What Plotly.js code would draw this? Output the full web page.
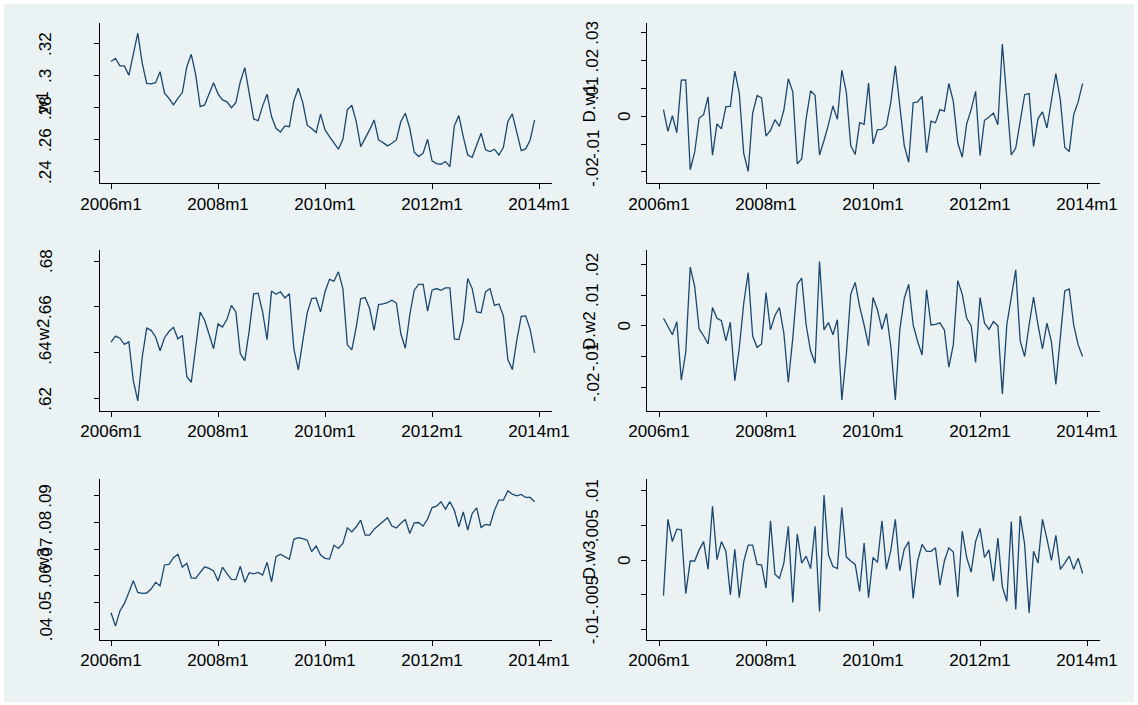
<!DOCTYPE html>
<html><head><meta charset="utf-8">
<script src="https://cdn.plot.ly/plotly-3.0.1.min.js"></script>
<style>html,body{margin:0;padding:0;background:#fff}</style>
</head><body><div id="chart" style="width:1138px;height:705px"></div>
<script>
// Monthly observations 2006m1 .. 2013m12 (96 months)
const tickLabels = ['2006m1','2008m1','2010m1','2012m1','2014m1'];
const tickMonths = [0,24,48,72,96];

const w1 = [0.309,0.311,0.3063,0.3063,0.3004,0.3142,0.3267,0.308,0.2954,0.295,0.2958,0.3027,
0.2892,0.286,0.2819,0.286,0.2896,0.3058,0.3135,0.3006,0.2808,0.2819,0.2892,0.2958,
0.2888,0.285,0.2838,0.2802,0.2833,0.2964,0.3052,0.2888,0.2731,0.2721,0.2813,0.2886,
0.2746,0.2673,0.265,0.2688,0.2683,0.2844,0.2923,0.2833,0.2692,0.2671,0.2646,0.2761,
0.2663,0.2621,0.2579,0.2542,0.2604,0.2788,0.2817,0.2715,0.2558,0.261,0.2663,0.2725,
0.26,0.2583,0.2563,0.2579,0.26,0.2715,0.2767,0.2673,0.2523,0.2496,0.2517,0.2604,
0.2469,0.2452,0.2448,0.2465,0.2433,0.2688,0.2752,0.2621,0.2506,0.2492,0.2563,0.2642,
0.2538,0.2527,0.2542,0.2506,0.2554,0.2715,0.2763,0.2652,0.2533,0.2544,0.26,0.2725];

const dw1 = [null,0.0024,-0.0054,0.0002,-0.0059,0.013,0.0131,-0.0192,-0.0129,-0.0006,0.0006,0.007,
-0.014,-0.0027,-0.0045,0.0035,0.0036,0.0163,0.0084,-0.0133,-0.0198,0.0012,0.0075,0.0066,
-0.0071,-0.0051,-0.0012,-0.0036,0.0022,0.0135,0.0088,-0.0171,-0.0153,-0.0008,0.0092,0.0076,
-0.0139,-0.0087,-0.003,0.0037,-0.0011,0.0166,0.0088,-0.0105,-0.0137,-0.0023,-0.0029,0.012,
-0.0099,-0.0048,-0.0047,-0.0033,0.0052,0.0182,0.004,-0.0105,-0.0165,0.0049,0.0052,0.0072,
-0.0131,-0.0017,-0.0023,0.0024,0.0019,0.0118,0.0054,-0.0095,-0.0147,-0.0027,0.0024,0.009,
-0.0141,-0.0014,-0.0002,0.0012,-0.003,0.026,0.0064,-0.0139,-0.0114,-0.0018,0.0078,0.0082,
-0.0108,-0.0008,0.0016,-0.0042,0.006,0.0154,0.006,-0.0111,-0.0127,0.0006,0.0052,0.0118];

const w2 = [0.6447,0.6473,0.6464,0.6437,0.6448,0.6279,0.6191,0.6381,0.6508,0.6498,0.6469,0.6409,
0.6466,0.6493,0.6511,0.6461,0.6476,0.6296,0.6272,0.6425,0.6578,0.6542,0.6476,0.6418,
0.6526,0.6512,0.6546,0.6607,0.6578,0.6396,0.6366,0.6498,0.6657,0.666,0.6578,0.6457,
0.6669,0.6655,0.6666,0.6639,0.6657,0.6418,0.6326,0.6447,0.6574,0.6636,0.6639,0.6578,
0.6666,0.672,0.6712,0.6753,0.668,0.6435,0.6413,0.6512,0.6636,0.6641,0.6593,0.6498,
0.661,0.6613,0.6619,0.6629,0.6617,0.6483,0.642,0.6564,0.6673,0.6698,0.6698,0.6582,
0.6673,0.668,0.6672,0.6683,0.6683,0.6461,0.6458,0.6537,0.6724,0.668,0.6578,0.6575,
0.6666,0.668,0.6607,0.6613,0.6561,0.6371,0.6327,0.6454,0.6559,0.6561,0.6502,0.64];

const dw2 = [null,0.0025,-0.0002,-0.0029,0.0014,-0.0177,-0.0086,0.0192,0.0129,-0.001,-0.0032,-0.0059,
0.006,0.0025,0.0017,-0.0049,0.0012,-0.0179,-0.0073,0.0074,0.0174,-0.0033,-0.007,-0.0059,
0.0109,-0.0013,0.0034,0.006,-0.0024,-0.0184,-0.004,0.0136,0.0156,0.0003,-0.0082,-0.0122,
0.021,-0.0013,0.0011,-0.0029,0.002,-0.0242,-0.0095,0.0104,0.0142,0.0063,0.0003,-0.0065,
0.0093,0.0052,-0.0011,0.0041,-0.0068,-0.0242,-0.0013,0.009,0.0136,0.0003,-0.0051,-0.0095,
0.0118,0.0003,0.0005,0.001,-0.0013,-0.0135,-0.0062,0.0148,0.0104,0.0025,0.0001,-0.0119,
0.0093,0.0009,-0.0011,0.0014,0.0,-0.0222,0.0003,0.009,0.0183,-0.0049,-0.01,0.0003,
0.0094,0.0003,-0.0075,0.0009,-0.0051,-0.0191,-0.0027,0.0114,0.0121,0.0003,-0.0062,-0.01];

const w3 = [0.0462,0.0412,0.0469,0.0497,0.0538,0.0582,0.0538,0.0535,0.0536,0.0551,0.0576,0.0563,
0.0641,0.0643,0.0668,0.0681,0.0633,0.0647,0.0593,0.0591,0.0613,0.0634,0.0628,0.0619,
0.0581,0.0633,0.0609,0.0587,0.0586,0.0636,0.0576,0.0612,0.0608,0.0613,0.0603,0.0651,
0.0578,0.0672,0.0681,0.0672,0.0662,0.0737,0.0743,0.074,0.0734,0.0691,0.0712,0.0678,
0.0666,0.0663,0.0715,0.0703,0.0722,0.078,0.0765,0.0784,0.0809,0.0753,0.0753,0.0775,
0.079,0.0803,0.0818,0.0787,0.078,0.0797,0.0811,0.0759,0.0799,0.08,0.0787,0.0813,
0.0856,0.0861,0.0878,0.085,0.0878,0.0846,0.0784,0.084,0.0772,0.0834,0.0855,0.0782,
0.0793,0.079,0.0846,0.0884,0.0884,0.0919,0.0906,0.09,0.0905,0.0894,0.0894,0.0878];

const dw3 = [null,-0.0051,0.0059,0.0027,0.0045,0.0044,-0.0048,-0.0001,-0.0001,0.0015,0.0027,-0.0013,
0.0078,0.0001,0.0027,0.0013,-0.005,0.0016,-0.0054,-0.0002,0.0022,0.0022,-0.0006,-0.0007,
-0.004,0.0057,-0.002,-0.0026,-0.0004,0.0049,-0.0061,0.0038,-0.0004,0.0006,-0.0012,0.0049,
-0.0074,0.0094,0.0008,-0.0009,-0.0012,0.0076,0.0005,-0.0001,-0.0006,-0.0045,0.0025,-0.0054,
0.0004,-0.0003,0.0057,-0.0013,0.0015,0.0059,-0.0015,0.0016,0.0027,-0.0055,-0.0001,0.0023,
0.0013,0.0013,0.0018,-0.0036,-0.0001,0.0018,0.0012,-0.0053,0.0042,0.0004,-0.0017,0.0027,
0.0046,0.0004,0.0015,-0.003,0.0032,-0.0038,-0.0059,0.0056,-0.0071,0.0064,0.0023,-0.0076,
0.0013,-0.0004,0.0059,0.0031,0.0,0.0036,-0.0013,-0.0004,0.0006,-0.0013,0.0003,-0.0019];

const yTickVals = {
  w1: [0.24,0.26,0.28,0.30,0.32], dw1: [-0.02,-0.01,0,0.01,0.02,0.03],
  w2: [0.62,0.64,0.66,0.68], dw2: [-0.02,-0.01,0,0.01,0.02],
  w3: [0.04,0.05,0.06,0.07,0.08,0.09], dw3: [-0.01,-0.005,0,0.005,0.01]
};
const yTickText = {
  w1: ['.24','.26','.28','.3','.32'], dw1: ['-.02','-.01','0','.01','.02','.03'],
  w2: ['.62','.64','.66','.68'], dw2: ['-.02','-.01','0','.01','.02'],
  w3: ['.04','.05','.06','.07','.08','.09'], dw3: ['-.01','-.005','0','.005','.01']
};
const titles = ['w1','D.w1','w2','D.w2','w3','D.w3'];

const W = 1138, H = 705;
const months = w1.map((_, i) => i);
const NAVY = '#1a476f', GRID = '#eaf2f3', FONT = 'Liberation Sans, Arial, sans-serif';

// panel pixel boxes [x0,x1,y0,y1]
const boxes = [
  [100,552,22.5,183.3],[646.7,1100,22.5,183.3],
  [100,552,250,410.7],[646.7,1100,250,410.7],
  [100,552,479,640],[646.7,1100,479,640]
];
const yr = [[0.2329,0.3334],[-0.02408,0.03375],[0.6148,0.6848],[-0.0277,0.0248],[0.036,0.0963],[-0.0115,0.01173]];
const xr = [[-2.47,98.9],[-2.76,98.9]];
const series = [w1,dw1,w2,dw2,w3,dw3];
const keys = ['w1','dw1','w2','dw2','w3','dw3'];

const data = [], layout = {
  width: W, height: H, margin: {l:0,r:0,t:0,b:0},
  paper_bgcolor: '#ffffff', plot_bgcolor: '#ffffff', showlegend: false,
  font: {family: FONT, size: 17, color: '#000'}, annotations: [],
  shapes: [{type:'rect', xref:'paper', yref:'paper', layer:'below',
    x0: 4/W, x1: 1134/W, y0: 1 - 702/H, y1: 1 - 4/H,
    fillcolor: GRID, line: {width: 0}}]
};
series.forEach((s, k) => {
  const n = k + 1, b = boxes[k];
  data.push({x: months, y: s, type: 'scatter', mode: 'lines',
    line: {color: NAVY, width: 1.3}, xaxis: 'x' + n, yaxis: 'y' + n,
    connectgaps: false, hoverinfo: 'skip'});
  layout['xaxis' + n] = {
    domain: [b[0]/W, b[1]/W], anchor: 'y' + n, range: xr[k % 2],
    tickvals: tickMonths, ticktext: tickLabels, showgrid: false, zeroline: false,
    showline: true, linecolor: '#000', linewidth: 1, ticks: 'outside', ticklen: 5,
    tickcolor: '#000', tickfont: {size: 17, family: FONT}, fixedrange: true
  };
  layout['yaxis' + n] = {
    domain: [1 - b[3]/H, 1 - b[2]/H], anchor: 'x' + n, range: yr[k],
    tickvals: yTickVals[keys[k]], showticklabels: false,
    showgrid: true, gridcolor: GRID, gridwidth: 1.5, zeroline: false,
    showline: true, linecolor: '#000', linewidth: 1, ticks: 'outside', ticklen: 5,
    tickcolor: '#000', fixedrange: true
  };
  // vertical tick labels, Stata-style placement (short "0" sits closer to the axis)
  yTickVals[keys[k]].forEach((v, j) => {
    const t = yTickText[keys[k]][j];
    const dist = (t === '0') ? 22 : 54;
    layout.annotations.push({
      text: t, xref: 'paper', yref: 'y' + n, x: (b[0] - dist)/W, y: v,
      xanchor: 'center', yanchor: 'middle', textangle: -90, showarrow: false,
      font: {size: 17, family: FONT, color: '#000'}
    });
  });
  layout.annotations.push({
    text: titles[k], xref: 'paper', yref: 'paper',
    x: (b[0] - 57)/W, y: 1 - ((b[2] + b[3]) / 2)/H,
    xanchor: 'center', yanchor: 'middle', textangle: -90, showarrow: false,
    font: {size: 17, family: FONT, color: '#000'}
  });
});
Plotly.newPlot('chart', data, layout, {staticPlot: true});
</script></body></html>
